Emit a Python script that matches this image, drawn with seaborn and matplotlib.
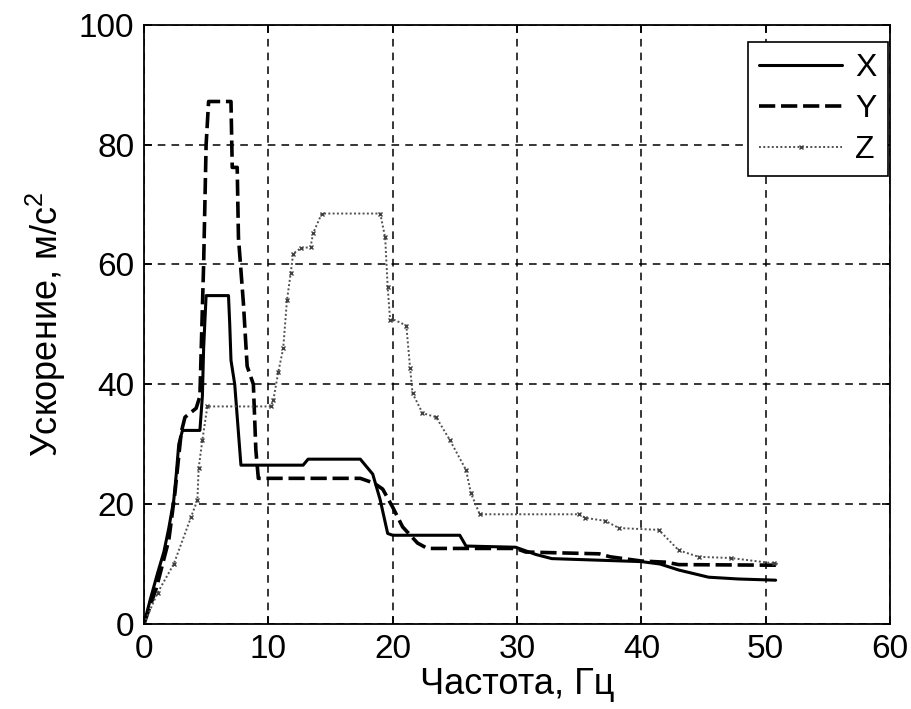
import seaborn as sns
import matplotlib.pyplot as plt
import pandas as pd

# Spectrum values (frequency in Hz, acceleration in m/s^2)
x_freq = [0, 0.5, 1.1, 1.6, 2.0, 2.4, 2.6, 2.8, 3.1, 4.5, 4.7, 4.8, 5.0, 6.8, 6.9, 7.0, 7.3,
          7.8, 12.8, 13.2, 17.4, 18.0, 18.4, 19.0, 19.6, 20.0, 25.4, 25.9, 29.9, 31.5,
          32.8, 40.0, 41.5, 43.0, 45.4, 47.8, 50.8]
x_acc = [0, 4, 8.5, 12, 16, 20.7, 25, 30, 32.3, 32.3, 38, 46, 54.8, 54.8, 50, 44, 40,
         26.5, 26.5, 27.5, 27.5, 26, 25, 20.7, 15.1, 14.8, 14.8, 13.0, 12.8, 11.6,
         10.9, 10.4, 10.0, 9.0, 7.8, 7.5, 7.3]

y_freq = [0, 1.0, 2.0, 2.5, 3.0, 3.3, 4.2, 4.5, 4.8, 5.0, 5.2, 7.0, 7.1, 7.5, 7.6, 8.0,
          8.3, 8.8, 9.0, 9.2, 17.4, 18.5, 19.2, 20.0, 20.8, 22.0, 22.8, 29.9, 30.7,
          36.6, 37.5, 40.0, 42.0, 43.0, 51.0]
y_acc = [0, 6, 14, 22, 32, 34.5, 36, 38, 60, 80, 87.2, 87.2, 76.2, 76.2, 64.5, 53.5,
         43, 40, 29, 24.3, 24.3, 23.5, 22.5, 19.5, 16.2, 13.5, 12.6, 12.6, 12.0,
         11.7, 11.2, 10.5, 10.3, 9.9, 9.8]

z_freq = [0, 1.1, 2.4, 3.8, 4.3, 4.4, 4.7, 5.1, 10.2, 10.4, 10.8, 11.2, 11.5, 11.8,
          12.0, 12.6, 13.4, 13.6, 14.3, 19.0, 19.4, 19.6, 19.8, 20.2, 21.1, 21.4, 21.6,
          22.4, 23.5, 24.6, 25.9, 26.3, 27.0, 35.0, 35.5, 37.1, 38.2, 41.4, 43.0, 44.6,
          47.2, 50.7, 51.0]
z_acc = [0, 5.2, 10, 17.9, 20.7, 26, 30.7, 36.3, 36.3, 37.3, 42, 46, 54, 58.5, 61.8,
         62.7, 62.9, 65.2, 68.5, 68.5, 64.5, 56.2, 50.7, 50.7, 49.8, 42.8, 38.5, 35.2,
         34.5, 30.7, 25.7, 21.8, 18.3, 18.3, 17.7, 17.2, 16.0, 15.7, 12.3, 11.2, 11.0,
         10.1, 10.0]

axis_names = ['X', 'Y', 'Z']

sns.set_theme(style='white')
plt.rcParams['font.family'] = ['Liberation Sans', 'DejaVu Sans']
plt.rcParams['mathtext.fontset'] = 'custom'
plt.rcParams['mathtext.rm'] = 'Liberation Sans'
plt.rcParams['text.color'] = 'black'
plt.rcParams['axes.labelcolor'] = 'black'

fig = plt.figure(figsize=(9.11, 7.09), dpi=100)
ax = fig.add_axes([0.158, 0.12, 0.819, 0.845])

frames = {
    'X': pd.DataFrame({'f': x_freq, 'a': x_acc}),
    'Y': pd.DataFrame({'f': y_freq, 'a': y_acc}),
    'Z': pd.DataFrame({'f': z_freq, 'a': z_acc}),
}
styles = {
    'X': dict(color='black', linewidth=2.2, linestyle='-'),
    'Y': dict(color='black', linewidth=2.6, linestyle=(0, (4.5, 1.6))),
    # the Z curve carries small crosses along its dotted line
    'Z': dict(color='#505050', linewidth=1.4, linestyle=(0, (1, 1.2)),
              marker='x', markersize=3.5, mew=1.0, mec='#404040', markevery=0.014),
}

for name in axis_names:
    sns.lineplot(data=frames[name], x='f', y='a', ax=ax, sort=False,
                 estimator=None, label=name, **styles[name])

ax.set_xlim(0, 60)
ax.set_ylim(0, 100)
ax.set_xticks(range(0, 61, 10))
ax.set_yticks(range(0, 101, 20))
ax.grid(True, color='black', linestyle=(0, (5, 4)), linewidth=1.1)
for s in ax.spines.values():
    s.set_color('black')
    s.set_linewidth(1.3)
ax.tick_params(direction='in', length=6, width=1.2, labelsize=24, colors='black', pad=7,
               top=True, right=True, bottom=True, left=True)

ax.set_xlabel('Частота, Гц', fontsize=26, labelpad=2)
ax.set_ylabel('Ускорение, м/с$^2$', fontsize=26, labelpad=8)

leg = ax.legend(loc='upper right', bbox_to_anchor=(0.997, 0.972), borderaxespad=0,
                fontsize=23, handlelength=2.6, handletextpad=0.4, labelspacing=0.35,
                borderpad=0.35, fancybox=False, framealpha=1, edgecolor='black')
leg.get_frame().set_linewidth(1.2)

fig.savefig('out.png', dpi=100)
plt.close(fig)
